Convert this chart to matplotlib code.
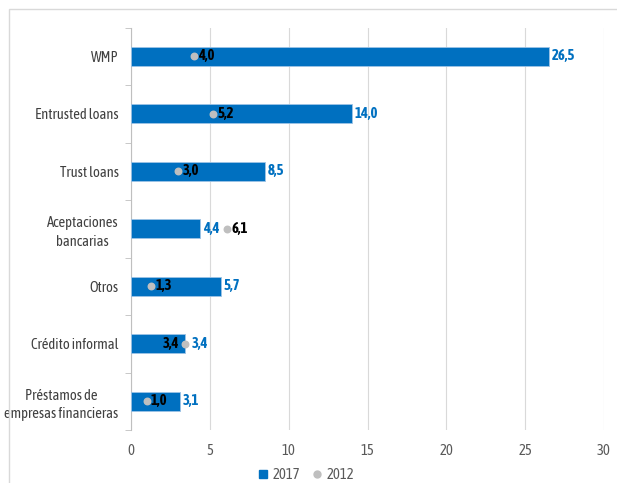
import matplotlib.pyplot as plt
from matplotlib.patches import Rectangle
from matplotlib.lines import Line2D

categorias = ["WMP", "Entrusted loans", "Trust loans", "Aceptaciones\nbancarias",
              "Otros", "Crédito informal", "Préstamos de\nempresas financieras"]
valores_2017 = [26.5, 14.0, 8.5, 4.4, 5.7, 3.4, 3.1]
valores_2012 = [4.0, 5.2, 3.0, 6.1, 1.3, 3.4, 1.0]
ticks_x = [0, 5, 10, 15, 20, 25, 30]

AZUL = "#0070C0"
GRIS = "#BFBFBF"
FUENTE = ["Asap Condensed", "DejaVu Sans"]

plt.rcParams["font.family"] = FUENTE


def fmt(v):
    return f"{v:.1f}".replace(".", ",")


fig = plt.figure(figsize=(6.17, 4.83), dpi=100)
ax = fig.add_axes([131 / 617, 1 - 430 / 483, (604 - 131) / 617, (430 - 27.5) / 483])

# marco exterior del gráfico
fig.patches.append(Rectangle((9 / 617, -0.05), 1.2, 1 - 9 / 483 + 0.05,
                             transform=fig.transFigure, fill=False,
                             edgecolor="#D9D9D9", linewidth=1.0))

y = list(range(len(categorias)))
ax.barh(y, valores_2017, height=0.33, color=AZUL, edgecolor="#9DC3E6",
        linewidth=0.6, zorder=3)
ax.scatter(valores_2012, y, s=22, color=GRIS, zorder=4)

for i, (v17, v12) in enumerate(zip(valores_2017, valores_2012)):
    solapado = abs(v17 - v12) < 0.3
    # etiqueta 2012 (negra) junto al punto
    if solapado:
        ax.annotate(fmt(v12), (v12, i), xytext=(-4, 0), textcoords="offset points",
                    ha="right", va="center", fontsize=10.5, fontweight="bold",
                    color="black", zorder=5)
    else:
        ax.annotate(fmt(v12), (v12, i), xytext=(3, 0), textcoords="offset points",
                    ha="left", va="center", fontsize=10.5, fontweight="bold",
                    color="black", zorder=5)
    # etiqueta 2017 (azul) al final de la barra
    ax.annotate(fmt(v17), (v17, i), xytext=(5 if solapado else 2, 0),
                textcoords="offset points", ha="left", va="center", fontsize=10.5,
                fontweight="bold", color=AZUL, zorder=5)

ax.set_xlim(0, 30)
ax.set_ylim(len(categorias) - 0.5, -0.5)
ax.set_xticks(ticks_x)
ax.set_xticklabels([str(t) for t in ticks_x])
ax.set_yticks(y)
ax.set_yticklabels(categorias, linespacing=1.4, multialignment="center")
ax.set_yticks([i - 0.5 for i in range(len(categorias) + 1)], minor=True)

ax.grid(axis="x", color="#D9D9D9", linewidth=0.8, zorder=0)
ax.set_axisbelow(True)
for lado in ["top", "right", "bottom"]:
    ax.spines[lado].set_visible(False)
ax.spines["left"].set_color("#BFBFBF")
ax.tick_params(axis="y", which="major", length=0, pad=9, labelsize=10.5,
               labelcolor="#404040")
ax.tick_params(axis="y", which="minor", length=4, color="#BFBFBF")
ax.tick_params(axis="x", length=0, pad=10, labelsize=10.5, labelcolor="#595959")

handles = [
    Line2D([], [], marker="s", linestyle="none", color=AZUL, markersize=6),
    Line2D([], [], marker="o", linestyle="none", color=GRIS, markersize=5),
]
fig.legend(handles, ["2017", "2012"], loc="center", ncol=2,
           bbox_to_anchor=(305 / 617, 1 - 475 / 483), frameon=False,
           fontsize=10.5, handletextpad=0.2, columnspacing=0.6, handlelength=1.0,
           labelcolor="#595959")

fig.savefig("out.png", dpi=100)
